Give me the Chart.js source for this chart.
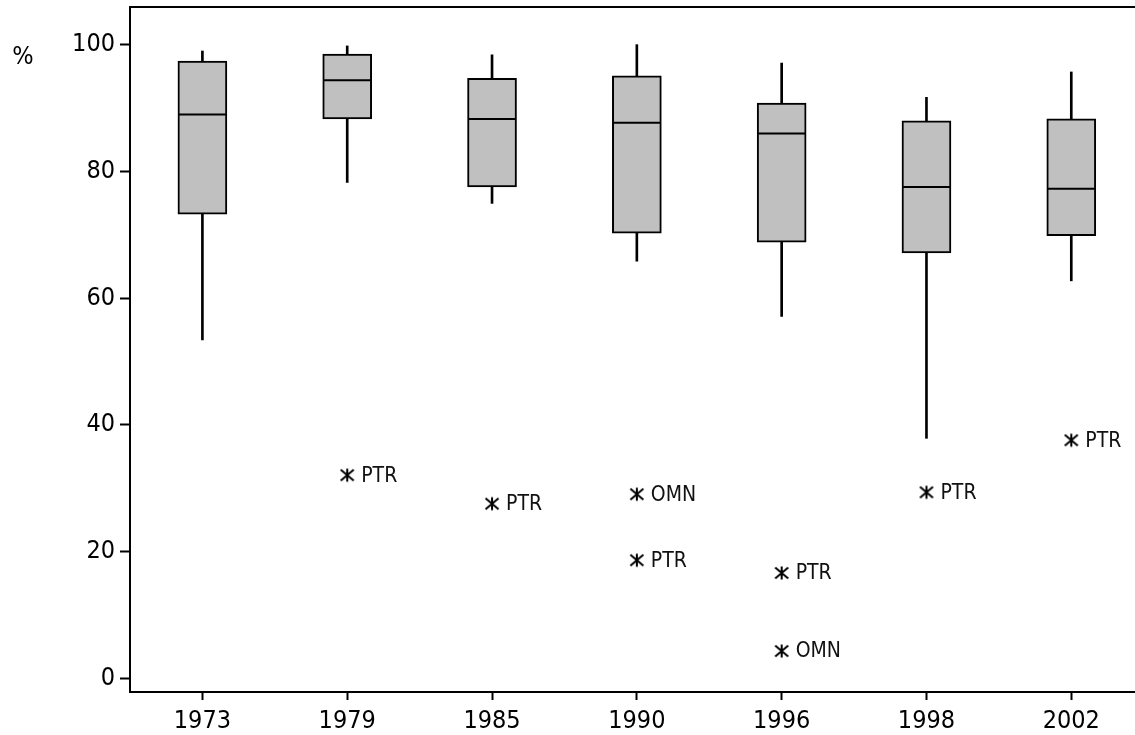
<!DOCTYPE html>
<html>
<head>
<meta charset="utf-8">
<script src="https://cdn.jsdelivr.net/npm/chart.js@4/dist/chart.umd.min.js"></script>
<style>
  html, body { margin: 0; padding: 0; background: #fff; overflow: hidden; }
  #wrap { width: 1135px; height: 735px; position: relative; }
</style>
</head>
<body>
<div id="wrap"><canvas id="chart"></canvas></div>
<script>
// Survey years along the horizontal axis
const years = ['1973', '1979', '1985', '1990', '1996', '1998', '2002'];

// Five-number summaries per year (%)
const whiskerLow  = [53.4, 78.2, 74.9, 65.8, 57.1, 37.9, 62.7];
const quartile1   = [73.2, 88.2, 77.5, 70.2, 68.8, 67.1, 69.8];
const medians     = [88.9, 94.3, 88.2, 87.6, 85.9, 77.5, 77.2];
const quartile3   = [97.3, 98.4, 94.6, 95.0, 90.7, 87.9, 88.2];
const whiskerHigh = [98.9, 99.7, 98.3, 99.9, 97.0, 91.6, 95.6];

// Outlying countries: year index, value, country code
const outlierYear  = [1, 2, 3, 3, 4, 4, 5, 6];
const outlierValue = [32.1, 27.6, 29.1, 18.7, 16.7, 4.4, 29.4, 37.6];
const outlierLabel = ['PTR', 'PTR', 'OMN', 'PTR', 'PTR', 'OMN', 'PTR', 'PTR'];

// Y tick values
const yTicks = [0, 20, 40, 60, 80, 100];

const FONT = "'DejaVu Sans Condensed', 'DejaVu Sans', sans-serif";

// Asterisk marker used for outliers
function makeAsterisk() {
  const c = document.createElement('canvas');
  c.width = 16; c.height = 16;
  const g = c.getContext('2d');
  g.strokeStyle = '#000';
  g.lineWidth = 2;
  g.beginPath();
  g.moveTo(8, 1.5); g.lineTo(8, 14.5);
  g.moveTo(1.5, 2.5); g.lineTo(14.5, 13.5);
  g.moveTo(14.5, 2.5); g.lineTo(1.5, 13.5);
  g.stroke();
  return c;
}
const asterisk = makeAsterisk();

const idx = years.map((_, i) => i);

const frameAndLabels = {
  id: 'frameAndLabels',
  afterDatasetsDraw(chart) {
    const { ctx, chartArea, scales } = chart;
    ctx.save();
    // top frame line
    ctx.strokeStyle = '#000';
    ctx.lineWidth = 2;
    ctx.beginPath();
    ctx.moveTo(chartArea.left - 1, chartArea.top);
    ctx.lineTo(chartArea.right, chartArea.top);
    ctx.stroke();

    // country codes beside the outlier markers
    const meta = chart.getDatasetMeta(chart.data.datasets.findIndex(d => d.label === 'outliers'));
    ctx.fillStyle = '#111';
    ctx.font = '21px ' + FONT;
    ctx.textAlign = 'left';
    ctx.textBaseline = 'middle';
    meta.data.forEach((pt, i) => {
      ctx.fillText(outlierLabel[i], pt.x + 14, pt.y + 1);
    });

    // unit label next to the y axis
    ctx.font = '25px ' + FONT;
    ctx.textAlign = 'center';
    ctx.fillStyle = '#000';
    ctx.fillText('%', 23, scales.y.getPixelForValue(100) + 13);
    ctx.restore();
  }
};

new Chart(document.getElementById('chart'), {
  data: {
    datasets: [
      {
        type: 'bar', label: 'upper whisker', grouped: false, order: 3,
        data: idx.map(i => ({ x: i, y: [quartile3[i], whiskerHigh[i]] })),
        backgroundColor: '#000', borderWidth: 0, barThickness: 2
      },
      {
        type: 'bar', label: 'lower whisker', grouped: false, order: 3,
        data: idx.map(i => ({ x: i, y: [whiskerLow[i], quartile1[i]] })),
        backgroundColor: '#000', borderWidth: 0, barThickness: 2
      },
      {
        type: 'bar', label: 'box', grouped: false, order: 2,
        data: idx.map(i => ({ x: i, y: [quartile1[i], quartile3[i]] })),
        backgroundColor: '#c0c0c0', borderColor: '#000', borderWidth: 2,
        borderSkipped: false, barThickness: 49
      },
      {
        type: 'scatter', label: 'median', order: 1,
        data: idx.map(i => ({ x: i, y: medians[i] })),
        pointStyle: 'line', pointRadius: 24, pointHoverRadius: 24,
        borderColor: '#000', borderWidth: 2, showLine: false
      },
      {
        type: 'scatter', label: 'outliers', order: 0,
        data: outlierYear.map((yr, i) => ({ x: yr, y: outlierValue[i] })),
        pointStyle: asterisk, pointRadius: 8, showLine: false
      }
    ]
  },
  options: {
    responsive: true,
    maintainAspectRatio: false,
    animation: false,
    events: [],
    layout: { autoPadding: false, padding: { top: 7, left: 0, right: 0, bottom: 0 } },
    plugins: { legend: { display: false }, tooltip: { enabled: false } },
    scales: {
      x: {
        type: 'linear',
        offset: false,
        min: -0.5,
        max: 6.44,
        afterFit(s) { s.height = 43; s.paddingLeft = 0; s.paddingRight = 0; },
        afterBuildTicks(s) { s.ticks = idx.map(v => ({ value: v })); },
        grid: { display: true, offset: false, drawOnChartArea: false, drawTicks: true, tickLength: 8, tickWidth: 2, color: '#000' },
        border: { display: true, color: '#000', width: 2 },
        ticks: {
          color: '#000', padding: 6, maxRotation: 0, autoSkip: false,
          font: { family: FONT, size: 25 },
          callback: v => years[v]
        }
      },
      y: {
        type: 'linear',
        min: -2.05,
        max: 105.83,
        afterFit(s) { s.width = 130; s.paddingTop = 0; s.paddingBottom = 0; },
        afterBuildTicks(s) { s.ticks = yTicks.map(v => ({ value: v })); },
        grid: { display: true, drawOnChartArea: false, drawTicks: true, tickLength: 10, tickWidth: 2, color: '#000' },
        border: { display: true, color: '#000', width: 2 },
        ticks: {
          color: '#000', padding: 5,
          font: { family: FONT, size: 25 }
        }
      }
    }
  },
  plugins: [frameAndLabels]
});
</script>
</body>
</html>
